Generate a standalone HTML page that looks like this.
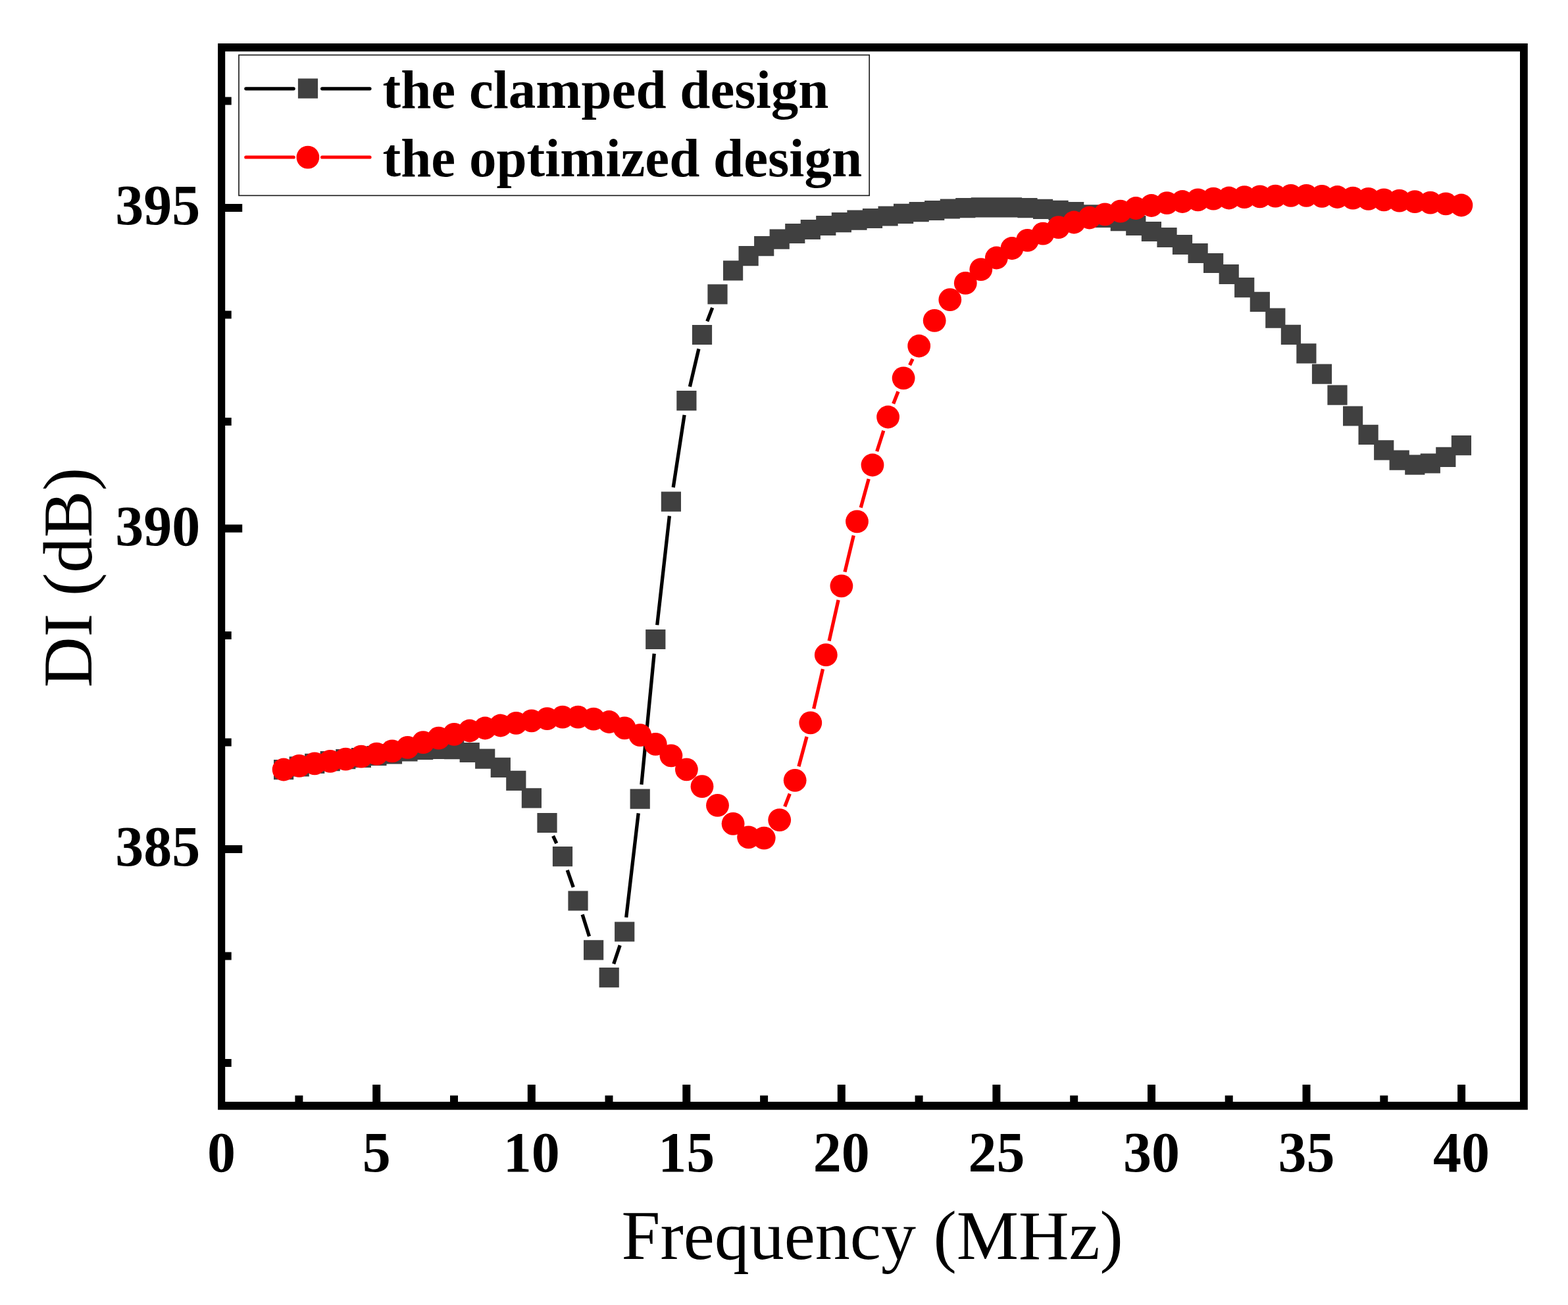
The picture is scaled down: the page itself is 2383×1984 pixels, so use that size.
<!DOCTYPE html>
<html lang="en"><head><meta charset="utf-8"><title>DI vs Frequency</title>
<style>html,body{margin:0;padding:0;background:#fff}svg{display:block}text{font-family:"Liberation Serif","Times New Roman",serif;fill:#000}.b{font-weight:bold}</style></head><body>
<svg width="2383" height="1984" viewBox="0 0 2383 1984">
<rect x="0" y="0" width="2383" height="1984" fill="#fff"/>
<g id="series-clamped">
<path d="M840.6 1270.9L845.8 1282.2M862.2 1322.8L871.3 1348.8M885.1 1390.4L895.5 1423.5M932.7 1465.4L942.2 1437.2M951.7 1394.7L970.2 1236.4M974.9 1192.8L994.2 993.8M998.7 950.2L1017.4 784.4M1023.2 741.0L1040.1 630.8M1048.4 587.9L1061.9 530.3M1074.8 488.5L1082.7 467.9" stroke="#000" stroke-width="5.3" fill="none"/>
<path d="M416.0 1155.1h30.2v30.2h-30.2zM439.6 1150.3h30.2v30.2h-30.2zM463.1 1145.7h30.2v30.2h-30.2zM486.6 1142.1h30.2v30.2h-30.2zM510.2 1139.0h30.2v30.2h-30.2zM533.8 1136.9h30.2v30.2h-30.2zM557.3 1133.9h30.2v30.2h-30.2zM580.9 1131.2h30.2v30.2h-30.2zM604.4 1127.3h30.2v30.2h-30.2zM628.0 1124.7h30.2v30.2h-30.2zM651.5 1123.7h30.2v30.2h-30.2zM675.1 1124.0h30.2v30.2h-30.2zM698.6 1128.9h30.2v30.2h-30.2zM722.1 1138.6h30.2v30.2h-30.2zM745.7 1151.7h30.2v30.2h-30.2zM769.2 1171.8h30.2v30.2h-30.2zM792.8 1198.3h30.2v30.2h-30.2zM816.4 1235.9h30.2v30.2h-30.2zM839.9 1287.0h30.2v30.2h-30.2zM863.4 1354.4h30.2v30.2h-30.2zM887.0 1429.3h30.2v30.2h-30.2zM910.6 1471.0h30.2v30.2h-30.2zM934.1 1401.4h30.2v30.2h-30.2zM957.6 1199.5h30.2v30.2h-30.2zM981.2 956.9h30.2v30.2h-30.2zM1004.8 747.5h30.2v30.2h-30.2zM1028.3 594.1h30.2v30.2h-30.2zM1051.9 493.9h30.2v30.2h-30.2zM1075.4 432.3h30.2v30.2h-30.2zM1099.0 396.3h30.2v30.2h-30.2zM1122.5 374.0h30.2v30.2h-30.2zM1146.1 359.0h30.2v30.2h-30.2zM1169.6 348.5h30.2v30.2h-30.2zM1193.2 339.9h30.2v30.2h-30.2zM1216.7 333.9h30.2v30.2h-30.2zM1240.2 327.9h30.2v30.2h-30.2zM1263.8 323.1h30.2v30.2h-30.2zM1287.4 319.5h30.2v30.2h-30.2zM1310.9 316.9h30.2v30.2h-30.2zM1334.5 313.4h30.2v30.2h-30.2zM1358.0 309.7h30.2v30.2h-30.2zM1381.6 307.0h30.2v30.2h-30.2zM1405.1 304.9h30.2v30.2h-30.2zM1428.7 302.4h30.2v30.2h-30.2zM1452.2 301.0h30.2v30.2h-30.2zM1475.8 300.2h30.2v30.2h-30.2zM1499.3 300.2h30.2v30.2h-30.2zM1522.9 300.2h30.2v30.2h-30.2zM1546.4 301.0h30.2v30.2h-30.2zM1570.0 302.7h30.2v30.2h-30.2zM1593.5 304.7h30.2v30.2h-30.2zM1617.1 307.0h30.2v30.2h-30.2zM1640.6 311.3h30.2v30.2h-30.2zM1664.2 315.9h30.2v30.2h-30.2zM1687.7 321.1h30.2v30.2h-30.2zM1711.2 327.9h30.2v30.2h-30.2zM1734.8 336.9h30.2v30.2h-30.2zM1758.4 345.9h30.2v30.2h-30.2zM1781.9 356.9h30.2v30.2h-30.2zM1805.5 369.9h30.2v30.2h-30.2zM1829.0 384.9h30.2v30.2h-30.2zM1852.6 401.9h30.2v30.2h-30.2zM1876.1 422.1h30.2v30.2h-30.2zM1899.7 443.7h30.2v30.2h-30.2zM1923.2 468.5h30.2v30.2h-30.2zM1946.8 493.8h30.2v30.2h-30.2zM1970.3 522.3h30.2v30.2h-30.2zM1993.9 553.6h30.2v30.2h-30.2zM2017.4 585.5h30.2v30.2h-30.2zM2041.0 617.4h30.2v30.2h-30.2zM2064.5 645.7h30.2v30.2h-30.2zM2088.1 669.2h30.2v30.2h-30.2zM2111.6 684.6h30.2v30.2h-30.2zM2135.2 691.5h30.2v30.2h-30.2zM2158.7 689.4h30.2v30.2h-30.2zM2182.2 679.7h30.2v30.2h-30.2zM2205.8 662.0h30.2v30.2h-30.2z" fill="#404040"/>
</g>
<g id="series-optimized" fill="#f00">
<path d="M1192.7 1226.2L1200.3 1206.7M1213.9 1165.2L1226.1 1120.0M1236.7 1077.5L1250.5 1017.1M1260.1 974.3L1274.1 912.2M1284.0 869.5L1297.3 814.2M1308.2 771.8L1320.2 728.1M1332.7 686.2L1342.8 654.8M1357.7 613.7L1365.0 595.2M1382.6 555.2L1387.1 545.7" stroke="#f00" stroke-width="5.3" fill="none"/>
<circle cx="431.1" cy="1170.0" r="17.4"/>
<circle cx="454.7" cy="1164.4" r="17.4"/>
<circle cx="478.2" cy="1160.8" r="17.4"/>
<circle cx="501.8" cy="1157.4" r="17.4"/>
<circle cx="525.3" cy="1154.1" r="17.4"/>
<circle cx="548.9" cy="1150.2" r="17.4"/>
<circle cx="572.4" cy="1146.2" r="17.4"/>
<circle cx="596.0" cy="1141.9" r="17.4"/>
<circle cx="619.5" cy="1136.4" r="17.4"/>
<circle cx="643.1" cy="1128.7" r="17.4"/>
<circle cx="666.6" cy="1122.2" r="17.4"/>
<circle cx="690.2" cy="1116.4" r="17.4"/>
<circle cx="713.7" cy="1111.0" r="17.4"/>
<circle cx="737.2" cy="1107.0" r="17.4"/>
<circle cx="760.8" cy="1103.0" r="17.4"/>
<circle cx="784.4" cy="1099.3" r="17.4"/>
<circle cx="807.9" cy="1095.8" r="17.4"/>
<circle cx="831.5" cy="1092.7" r="17.4"/>
<circle cx="855.0" cy="1090.2" r="17.4"/>
<circle cx="878.5" cy="1090.2" r="17.4"/>
<circle cx="902.1" cy="1093.1" r="17.4"/>
<circle cx="925.7" cy="1097.5" r="17.4"/>
<circle cx="949.2" cy="1106.8" r="17.4"/>
<circle cx="972.8" cy="1117.6" r="17.4"/>
<circle cx="996.3" cy="1131.3" r="17.4"/>
<circle cx="1019.9" cy="1148.8" r="17.4"/>
<circle cx="1043.4" cy="1169.8" r="17.4"/>
<circle cx="1067.0" cy="1195.7" r="17.4"/>
<circle cx="1090.5" cy="1224.4" r="17.4"/>
<circle cx="1114.1" cy="1252.3" r="17.4"/>
<circle cx="1137.6" cy="1272.9" r="17.4"/>
<circle cx="1161.2" cy="1274.1" r="17.4"/>
<circle cx="1184.7" cy="1246.6" r="17.4"/>
<circle cx="1208.2" cy="1186.3" r="17.4"/>
<circle cx="1231.8" cy="1098.9" r="17.4"/>
<circle cx="1255.3" cy="995.7" r="17.4"/>
<circle cx="1278.9" cy="890.8" r="17.4"/>
<circle cx="1302.5" cy="792.9" r="17.4"/>
<circle cx="1326.0" cy="707.0" r="17.4"/>
<circle cx="1349.6" cy="634.0" r="17.4"/>
<circle cx="1373.1" cy="574.9" r="17.4"/>
<circle cx="1396.7" cy="526.0" r="17.4"/>
<circle cx="1420.2" cy="487.4" r="17.4"/>
<circle cx="1443.8" cy="455.7" r="17.4"/>
<circle cx="1467.3" cy="430.4" r="17.4"/>
<circle cx="1490.8" cy="409.6" r="17.4"/>
<circle cx="1514.4" cy="392.0" r="17.4"/>
<circle cx="1538.0" cy="377.5" r="17.4"/>
<circle cx="1561.5" cy="365.4" r="17.4"/>
<circle cx="1585.1" cy="355.1" r="17.4"/>
<circle cx="1608.6" cy="345.7" r="17.4"/>
<circle cx="1632.2" cy="338.0" r="17.4"/>
<circle cx="1655.7" cy="331.0" r="17.4"/>
<circle cx="1679.2" cy="325.9" r="17.4"/>
<circle cx="1702.8" cy="321.1" r="17.4"/>
<circle cx="1726.3" cy="316.5" r="17.4"/>
<circle cx="1749.9" cy="312.5" r="17.4"/>
<circle cx="1773.5" cy="308.7" r="17.4"/>
<circle cx="1797.0" cy="306.5" r="17.4"/>
<circle cx="1820.6" cy="303.9" r="17.4"/>
<circle cx="1844.1" cy="302.2" r="17.4"/>
<circle cx="1867.7" cy="301.0" r="17.4"/>
<circle cx="1891.2" cy="299.7" r="17.4"/>
<circle cx="1914.8" cy="298.9" r="17.4"/>
<circle cx="1938.3" cy="298.2" r="17.4"/>
<circle cx="1961.8" cy="297.4" r="17.4"/>
<circle cx="1985.4" cy="297.3" r="17.4"/>
<circle cx="2009.0" cy="298.3" r="17.4"/>
<circle cx="2032.5" cy="299.5" r="17.4"/>
<circle cx="2056.1" cy="301.2" r="17.4"/>
<circle cx="2079.6" cy="302.4" r="17.4"/>
<circle cx="2103.2" cy="303.8" r="17.4"/>
<circle cx="2126.7" cy="305.1" r="17.4"/>
<circle cx="2150.2" cy="306.7" r="17.4"/>
<circle cx="2173.8" cy="308.1" r="17.4"/>
<circle cx="2197.3" cy="309.8" r="17.4"/>
<circle cx="2220.9" cy="312.0" r="17.4"/>
</g>
<path fill="#000" fill-rule="evenodd" d="M331.1 66.0H2321.8V1687.2H331.1ZM342.2 78.2H2310.0V1675.0H342.2Z"/>
<path d="M448.4 1665.5h12.0v10.5h-12.0zM566.2 1649.0h12.0v27.0h-12.0zM684.0 1665.5h12.0v10.5h-12.0zM801.8 1649.0h12.0v27.0h-12.0zM919.5 1665.5h12.0v10.5h-12.0zM1037.3 1649.0h12.0v27.0h-12.0zM1155.1 1665.5h12.0v10.5h-12.0zM1272.8 1649.0h12.0v27.0h-12.0zM1390.6 1665.5h12.0v10.5h-12.0zM1508.4 1649.0h12.0v27.0h-12.0zM1626.2 1665.5h12.0v10.5h-12.0zM1744.0 1649.0h12.0v27.0h-12.0zM1861.7 1665.5h12.0v10.5h-12.0zM1979.5 1649.0h12.0v27.0h-12.0zM2097.3 1665.5h12.0v10.5h-12.0zM2215.1 1649.0h12.0v27.0h-12.0zM341.2 1609.9h10.5v12.0h-10.5zM341.2 1447.4h10.5v12.0h-10.5zM341.2 1284.9h27.0v12.0h-27.0zM341.2 1122.4h10.5v12.0h-10.5zM341.2 959.9h10.5v12.0h-10.5zM341.2 797.4h27.0v12.0h-27.0zM341.2 634.9h10.5v12.0h-10.5zM341.2 472.4h10.5v12.0h-10.5zM341.2 309.9h27.0v12.0h-27.0zM341.2 147.4h10.5v12.0h-10.5z" fill="#000"/>
<text class="b" x="336.6" y="1781.0" font-size="86" text-anchor="middle">0</text>
<text class="b" x="572.2" y="1781.0" font-size="86" text-anchor="middle">5</text>
<text class="b" x="807.8" y="1781.0" font-size="86" text-anchor="middle">10</text>
<text class="b" x="1043.3" y="1781.0" font-size="86" text-anchor="middle">15</text>
<text class="b" x="1278.8" y="1781.0" font-size="86" text-anchor="middle">20</text>
<text class="b" x="1514.4" y="1781.0" font-size="86" text-anchor="middle">25</text>
<text class="b" x="1749.9" y="1781.0" font-size="86" text-anchor="middle">30</text>
<text class="b" x="1985.5" y="1781.0" font-size="86" text-anchor="middle">35</text>
<text class="b" x="2221.1" y="1781.0" font-size="86" text-anchor="middle">40</text>
<text class="b" x="304.2" y="1316.2" font-size="86" text-anchor="end">385</text>
<text class="b" x="304.2" y="828.7" font-size="86" text-anchor="end">390</text>
<text class="b" x="304.2" y="341.2" font-size="86" text-anchor="end">395</text>
<text x="1325.7" y="1914.2" font-size="106" text-anchor="middle">Frequency (MHz)</text>
<text transform="translate(138.5 878) rotate(-90)" font-size="106.6" text-anchor="middle">DI (dB)</text>
<rect x="363" y="83.6" width="958.2" height="213.7" fill="#fff" stroke="#222" stroke-width="1.7"/>
<path d="M373.8 134.8H446.2M489.6 134.8H562" stroke="#000" stroke-width="5.2" stroke-linecap="round" fill="none"/>
<rect x="452.9" y="119.4" width="30.2" height="30.2" fill="#404040"/>
<path d="M373.8 239H446.2M489.6 239H562" stroke="#f00" stroke-width="5.2" stroke-linecap="round" fill="none"/>
<circle cx="467.9" cy="239.1" r="17.4" fill="#f00"/>
<text class="b" x="581.5" y="163.8" font-size="83">the clamped design</text>
<text class="b" x="581.5" y="268.4" font-size="83">the optimized design</text>
</svg></body></html>
